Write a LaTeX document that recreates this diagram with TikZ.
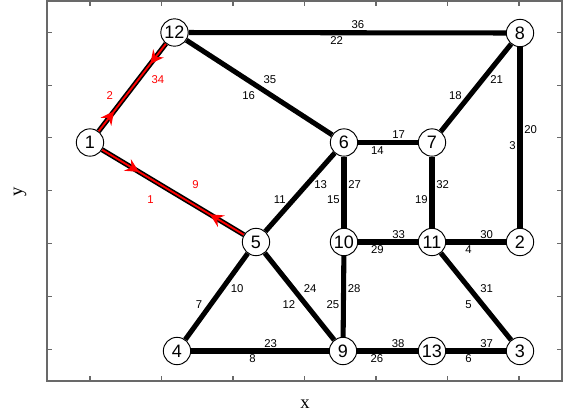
\documentclass[tikz,border=0pt]{standalone}
\usepackage{fontspec}
\setmainfont{Liberation Sans}
\newfontfamily\axisfont{Liberation Serif}
\usepackage{xcolor}
\usepackage{tikz}
\usetikzlibrary{arrows.meta, calc, backgrounds, decorations.markings}
\definecolor{axisgray}{RGB}{105, 105, 105}
\definecolor{pathred}{RGB}{255, 0, 0}

% two labels on an edge: style, x shift, from, to, upper label, lower label
\newcommand{\edgelbl}[6]{%
  \node[#1, anchor=south west] (l#5) at ($(#3)!0.5!(#4)+(#2,-3.5)$) {#5};
  \node[#1, anchor=north east] (l#6) at ($(#3)!0.5!(#4)+(-#2,3.5)$) {#6};
}

\begin{document}
\begin{tikzpicture}[x=0.75pt, y=-0.75pt,
  vtx/.style={circle, draw, fill=white, line width=0.7pt,
    minimum size=20.5pt, inner sep=0pt,
    font=\fontsize{13.5pt}{14pt}\selectfont},
  edge/.style={line width=3.8pt},
  redline/.style={draw=pathred, line width=1.4pt},
  twoway/.style 2 args={postaction={decorate, decoration={markings,
    mark=at position #1 with {\arrow{Stealth[length=10pt, width=10pt, inset=3.5pt]}},
    mark=at position #2 with {\arrowreversed{Stealth[length=10pt, width=10pt, inset=3.5pt]}}}}},
  lbl/.style={font=\fontsize{8.5pt}{9pt}\selectfont, inner sep=0pt},
  redlbl/.style={lbl, text=pathred},
  frame/.style={draw=axisgray, line width=0.8pt},
  axlbl/.style={font=\axisfont\fontsize{14pt}{15pt}\selectfont}
]
\useasboundingbox (0,0) rectangle (569,419);

% axes box
\draw[frame] (47,1) rectangle (562,381);
\foreach \tx in {0,...,6} {
  \draw[frame] ({90+71.5*\tx},381) -- ++(0,-5);
  \draw[frame] ({90+71.5*\tx},1) -- ++(0,5);
}
\foreach \ty in {0,...,6} {
  \draw[frame] (47,{32.3+52.83*\ty}) -- ++(5,0);
  \draw[frame] (562,{32.3+52.83*\ty}) -- ++(-5,0);
}
\node[axlbl] (xlab) at (305,404) {x};
\node[axlbl, rotate=90] (ylab) at (20,192) {y};

% vertices
\node[vtx] (n1)  at (90,142.5)  {1};
\node[vtx] (n12) at (174.5,32.5) {12};
\node[vtx] (n8)  at (520,33)    {8};
\node[vtx] (n6)  at (344,142.5) {6};
\node[vtx] (n7)  at (432,142.5) {7};
\node[vtx] (n5)  at (256,242)   {5};
\node[vtx] (n10) at (344,242)   {10};
\node[vtx] (n11) at (432,242)   {11};
\node[vtx] (n2)  at (520,242)   {2};
\node[vtx] (n4)  at (177,351)   {4};
\node[vtx] (n9)  at (343,351)   {9};
\node[vtx] (n13) at (432,351)   {13};
\node[vtx] (n3)  at (520,351)   {3};

% edges
\begin{scope}[on background layer]
\draw[edge] (n12) -- (n8);
\draw[edge] (n12) -- (n6);
\draw[edge] (n6) -- (n7);
\draw[edge] (n7) -- (n8);
\draw[edge] (n8) -- (n2);
\draw[edge] (n6) -- (n5);
\draw[edge] (n6) -- (n10);
\draw[edge] (n7) -- (n11);
\draw[edge] (n10) -- (n11);
\draw[edge] (n11) -- (n2);
\draw[edge] (n5) -- (n4);
\draw[edge] (n5) -- (n9);
\draw[edge] (n10) -- (n9);
\draw[edge] (n11) -- (n3);
\draw[edge] (n4) -- (n9);
\draw[edge] (n9) -- (n13);
\draw[edge] (n13) -- (n3);
\draw[edge] (n1) -- (n12);
\draw[edge] (n1) -- (n5);
\draw[redline, twoway={0.23}{0.77}] (n1) -- (n12);
\draw[redline, twoway={0.26}{0.76}] (n1) -- (n5);
\end{scope}

% edge labels
\edgelbl{lbl}{4}{n12}{n8}{36}{22}
\edgelbl{lbl}{4}{n12}{n6}{35}{16}
\edgelbl{lbl}{4}{n6}{n7}{17}{14}
\edgelbl{lbl}{14}{n7}{n8}{21}{18}
\edgelbl{lbl}{4}{n8}{n2}{20}{3}
\edgelbl{lbl}{14}{n6}{n5}{13}{11}
\edgelbl{lbl}{4}{n6}{n10}{27}{15}
\edgelbl{lbl}{4}{n7}{n11}{32}{19}
\edgelbl{lbl}{4}{n10}{n11}{33}{29}
\edgelbl{lbl}{4}{n11}{n2}{30}{4}
\edgelbl{lbl}{14}{n5}{n4}{10}{7}
\edgelbl{lbl}{4}{n5}{n9}{24}{12}
\edgelbl{lbl}{4}{n10}{n9}{28}{25}
\edgelbl{lbl}{4}{n11}{n3}{31}{5}
\edgelbl{lbl}{4}{n4}{n9}{23}{8}
\edgelbl{lbl}{4}{n9}{n13}{38}{26}
\edgelbl{lbl}{4}{n13}{n3}{37}{6}
\edgelbl{redlbl}{19}{n1}{n12}{34}{2}
\edgelbl{redlbl}{19}{n1}{n5}{9}{1}
\end{tikzpicture}
\end{document}
